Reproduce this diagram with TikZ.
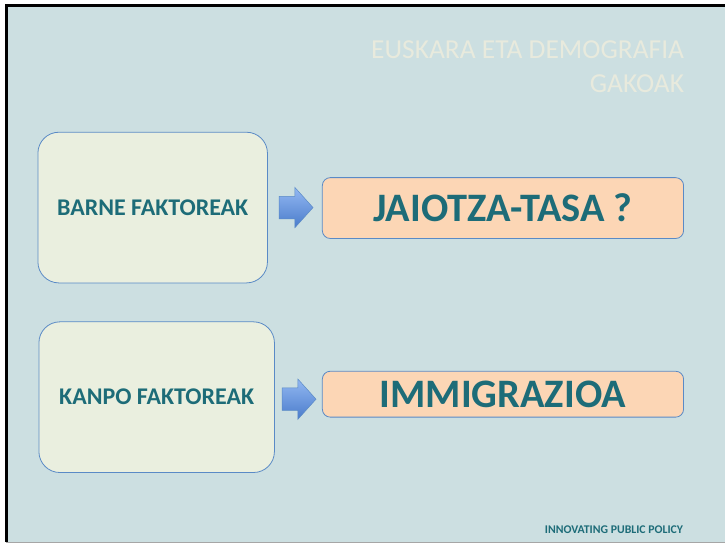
\documentclass[tikz,border=0pt]{standalone}
\usepackage{fontspec}
\setmainfont{Carlito}
\usetikzlibrary{shapes.arrows,positioning}
\definecolor{slidebg}{HTML}{CCDFE1}
\definecolor{titlecol}{HTML}{E8EADD}
\definecolor{tealtext}{HTML}{1D6C78}
\definecolor{factorfill}{HTML}{EAEFDF}
\definecolor{resultfill}{HTML}{FCD6B5}
\definecolor{boxline}{HTML}{5A8AC6}
\definecolor{arrowtop}{HTML}{93B8F2}
\definecolor{arrowbottom}{HTML}{4A7CCB}

\begin{document}
\begin{tikzpicture}[x=1pt,y=-1pt,
	factorbox/.style={draw=boxline,fill=factorfill,line width=0.8pt,rounded corners=21pt,
		minimum width=230pt,minimum height=151pt,text=tealtext,
		font=\bfseries\fontsize{24}{28}\selectfont},
	resultbox/.style={draw=boxline,fill=resultfill,line width=0.8pt,rounded corners=8pt,
		minimum width=362pt,text=tealtext,font=\bfseries\fontsize{40.5}{48}\selectfont},
	blockarrow/.style={single arrow,draw=boxline,line width=0.5pt,top color=arrowtop,
		bottom color=arrowbottom,text height=0pt,text depth=0pt,inner xsep=0pt,
		inner ysep=11pt,single arrow head extend=9pt,single arrow tip angle=96,
		minimum height=34pt}]
	% slide background and frame
	\fill[white] (0,0) rectangle (726,545);
	\fill[slidebg] (6,5) rectangle (726,543);
	\draw[gray!70,line width=1pt] (6,544) -- (726,544);
	\draw[black,line width=3pt] (6.5,543) -- (6.5,5.5) -- (726,5.5);
	\useasboundingbox (0,0) rectangle (726,545);

	% title
	\node[anchor=east,align=right,text=titlecol,font=\fontsize{27.5}{34}\selectfont] (title) at (689,67)
		{EUSKARA ETA DEMOGRAFIA\\GAKOAK};

	% left boxes
	\node[factorbox] (barne) at (153,208) {BARNE FAKTOREAK};
	\node[factorbox,minimum width=236pt] (kanpo) at (157,398) {KANPO FAKTOREAK};

	% right boxes
	\node[resultbox,minimum height=61pt] (jaiotza) at (504,208.5) {JAIOTZA-TASA ?};
	\node[resultbox,minimum height=46pt] (immigr) at (504,395) {IMMIGRAZIOA};

	% block arrows
	\node[blockarrow,right=11pt of barne] (arrowbarne) {};
	\node[blockarrow,right=7pt of kanpo,yshift=-2pt] (arrowkanpo) {};

	% footer
	\node[anchor=east,text=tealtext,font=\bfseries\fontsize{11.8}{13}\selectfont] (footer) at (688,530.5)
		{INNOVATING PUBLIC POLICY};
\end{tikzpicture}
\end{document}
